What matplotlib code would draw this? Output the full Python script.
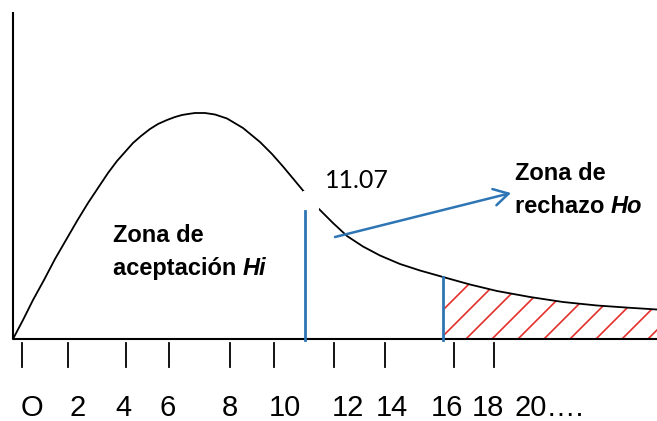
import numpy as np
import matplotlib
matplotlib.use("Agg")
import matplotlib.pyplot as plt
from matplotlib.patches import Polygon, Rectangle, FancyArrowPatch

plt.rcParams['font.family'] = ['Liberation Sans', 'DejaVu Sans']

# curve, in picture pixels (y grows downwards)
curve_x = [13, 23, 33, 44, 55, 66, 77, 88, 100, 108, 117, 125, 133, 141, 150,
           158, 167, 175, 182, 188, 195, 205, 215, 227, 243, 260, 272, 283,
           293, 303, 318, 333, 347, 363, 380, 400, 420, 443, 470, 497, 530,
           563, 597, 630, 657]
curve_y = [339, 320, 300, 280, 259, 240, 221, 203, 185, 173, 161, 152, 143, 136, 129,
           124, 120, 117, 115, 114, 113, 113, 114.5, 118.5, 128, 142, 154, 166.5,
           178.5, 190.5, 208, 223, 236, 246.5, 255.5, 264, 270.5, 277, 284.5, 291, 297,
           302, 305.5, 307.8, 309.5]

tick_x = [22, 68, 126, 169, 230, 274, 334, 385, 454, 494]
tick_labels = ['O', '2', '4', '6', '8', '10', '12', '14', '16', '18', '20….']
label_x = [32, 78, 123, 168, 230, 285, 348, 392, 447, 488, 514]

critical_label = '11.07'
accept_x = 305      # blue line at the critical value
reject_x = 443      # start of the shaded tail
axis_y = 339

BLUE = '#2E75B6'
RED = '#E3302B'

fig = plt.figure(figsize=(6.57, 4.21), dpi=100)
ax = fig.add_axes([0, 0, 1, 1])
ax.set_xlim(0, 657)
ax.set_ylim(421, 0)
ax.axis('off')
renderer = fig.canvas.get_renderer()

# axes
ax.plot([13, 13], [12, axis_y], color='black', lw=1.5, solid_capstyle='butt')
ax.plot([13, 657], [axis_y, axis_y], color='black', lw=1.5, solid_capstyle='butt')

# density curve
ax.plot(curve_x, curve_y, color='black', lw=1.3, solid_joinstyle='round', zorder=2)

# white gap where the label sat
ax.add_patch(Rectangle((303, 191), 16, 19, color='white', lw=0, zorder=3))

# hatched rejection tail
verts = [(x, y) for x, y in zip(curve_x, curve_y) if x >= reject_x]
verts += [(657, axis_y), (reject_x, axis_y)]
clip = Polygon(verts, closed=True, facecolor='none', edgecolor='none')
ax.add_patch(clip)
for x0 in np.arange(414, 700, 26):
    ln, = ax.plot([x0, x0 + 120], [axis_y, axis_y - 120], color=RED, lw=1.2, zorder=1)
    ln.set_clip_path(clip)

# blue verticals
ax.plot([accept_x, accept_x], [211, axis_y + 1], color=BLUE, lw=2.0, zorder=4)
ax.plot([reject_x, reject_x], [277, axis_y + 1], color=BLUE, lw=2.0, zorder=4)

# arrow to rejection label
ax.add_patch(FancyArrowPatch((335, 237), (511, 193),
                             arrowstyle='->,head_length=0.7,head_width=0.4',
                             mutation_scale=15, color=BLUE, lw=1.8,
                             shrinkA=0, shrinkB=0, zorder=5))

# ticks below the axis
for x in tick_x:
    ax.plot([x, x], [343, 367], color='black', lw=1.3)

for x, lab in zip(label_x, tick_labels):
    ax.text(x, 416, lab, fontsize=21, ha='left' if lab.endswith('.') else 'center',
            va='baseline')

ax.text(325, 188, critical_label, fontsize=18, family=['Lato', 'DejaVu Sans'],
        va='baseline')


def two_part(x, y, first, second):
    t = ax.text(x, y, first + ' ', fontsize=17, fontweight='bold', va='baseline')
    x1 = t.get_window_extent(renderer).x1
    ax.text(x1, y, second, fontsize=17, fontweight='bold', style='italic',
            va='baseline')


# zone labels
ax.text(113, 242, 'Zona de', fontsize=17, fontweight='bold', va='baseline')
two_part(113, 275, 'aceptación', 'Hi')

ax.text(515, 180, 'Zona de', fontsize=17, fontweight='bold', va='baseline')
two_part(515, 213, 'rechazo', 'Ho')

fig.savefig('out.png', dpi=100)
